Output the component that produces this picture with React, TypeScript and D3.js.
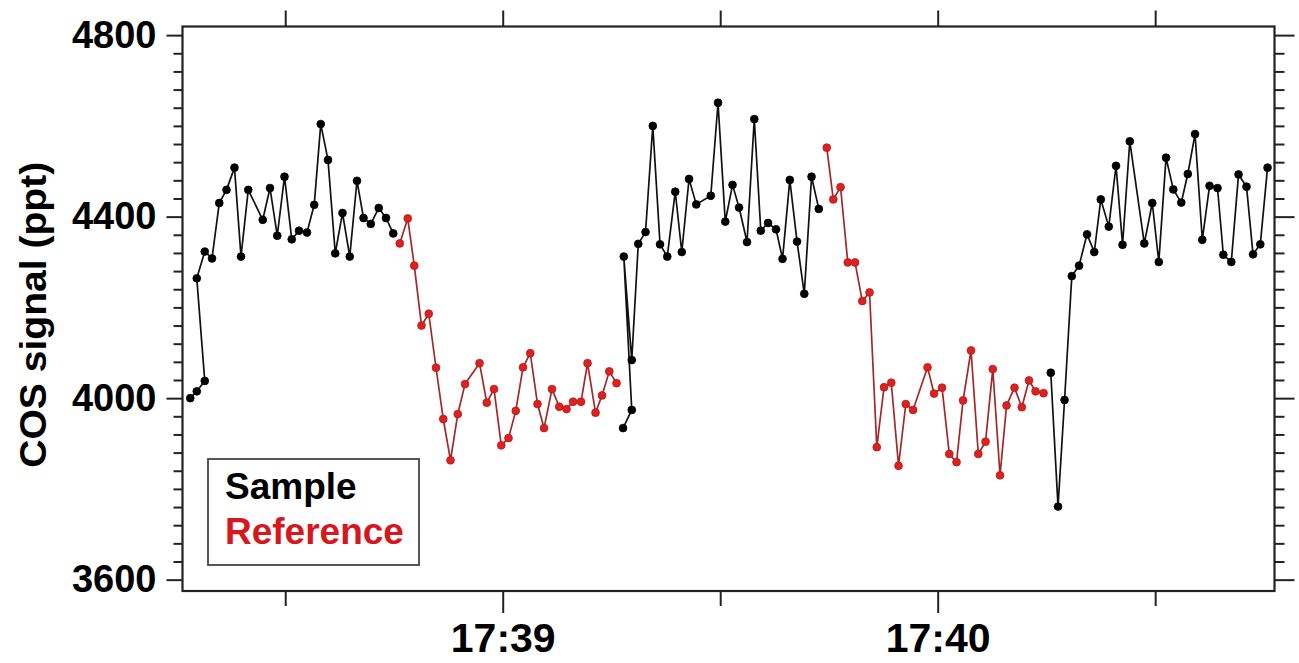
import React, { useEffect, useRef } from 'react';
import * as d3 from 'd3';

// times are seconds after 17:38:00, values in ppt
const sample1Time = [16.9, 17.8, 18.9, 17.8, 18.9, 19.9, 20.9, 21.9, 23.0, 23.9, 24.9, 26.9, 27.9, 28.9, 29.9, 30.9, 31.9, 33.0, 34.0, 34.9, 35.9, 36.9, 37.9, 38.9, 39.9, 40.8, 41.8, 42.9, 43.9, 44.9];
const sample1Value = [4000, 4015, 4038, 4264, 4323, 4308, 4430, 4459, 4508, 4312, 4459, 4393, 4463, 4358, 4488, 4350, 4369, 4365, 4426, 4604, 4525, 4319, 4408, 4312, 4479, 4397, 4384, 4419, 4397, 4363];

const ref1Time = [45.8, 46.9, 47.8, 48.8, 49.8, 50.8, 51.8, 52.8, 53.8, 54.8, 56.8, 57.8, 58.8, 59.8, 60.8, 61.8, 62.8, 63.8, 64.8, 65.7, 66.8, 67.8, 68.8, 69.7, 70.8, 71.7, 72.8, 73.7, 74.7, 75.7];
const ref1Value = [4341, 4396, 4292, 4160, 4186, 4067, 3954, 3863, 3965, 4031, 4077, 3990, 4020, 3896, 3912, 3972, 4068, 4099, 3987, 3934, 4020, 3981, 3976, 3992, 3992, 4077, 3968, 4006, 4059, 4033];

const sample2Time = [76.6, 77.8, 76.7, 77.8, 78.7, 79.7, 80.7, 81.7, 82.7, 83.8, 84.7, 85.7, 86.7, 88.7, 89.7, 90.7, 91.7, 92.6, 93.7, 94.7, 95.6, 96.6, 97.7, 98.6, 99.6, 100.6, 101.6, 102.6, 103.6];
const sample2Value = [3934, 3974, 4312, 4084, 4340, 4366, 4600, 4339, 4312, 4455, 4322, 4483, 4427, 4446, 4651, 4389, 4470, 4420, 4344, 4615, 4369, 4386, 4372, 4307, 4481, 4345, 4230, 4488, 4417];

const ref2Time = [104.7, 105.6, 106.6, 107.6, 108.6, 109.6, 110.6, 111.6, 112.6, 113.6, 114.6, 115.6, 116.6, 118.6, 119.5, 120.6, 121.6, 122.6, 123.5, 124.6, 125.6, 126.6, 127.6, 128.6, 129.5, 130.6, 131.6, 132.6, 133.5, 134.6];
const ref2Value = [4552, 4438, 4465, 4299, 4299, 4214, 4233, 3892, 4024, 4034, 3851, 3987, 3974, 4068, 4010, 4023, 3877, 3859, 3995, 4105, 3877, 3904, 4064, 3830, 3984, 4023, 3980, 4039, 4015, 4011];

const sample3Time = [135.6, 136.6, 137.5, 138.5, 139.5, 140.6, 141.6, 142.5, 143.6, 144.6, 145.5, 146.5, 148.5, 149.6, 150.5, 151.5, 152.5, 153.6, 154.5, 155.5, 156.5, 157.5, 158.6, 159.4, 160.5, 161.5, 162.6, 163.5, 164.5, 165.5];
const sample3Value = [4056, 3761, 3996, 4269, 4292, 4361, 4322, 4438, 4378, 4512, 4338, 4566, 4341, 4430, 4300, 4530, 4460, 4431, 4494, 4582, 4349, 4468, 4463, 4316, 4300, 4493, 4466, 4317, 4339, 4508];

const yMajorTicks = [3600, 4000, 4400, 4800];
const xTickSeconds = [30, 60, 90, 120, 150];
const xLabelSeconds = [60, 120];
const legendLabels = ['Sample', 'Reference'];

const W = 1299;
const H = 663;
const frame = { left: 182.5, right: 1274.5, top: 26.5, bottom: 591 };
const FONT = '"Liberation Sans", Arial, Helvetica, sans-serif';
const BLACK = '#111';
const RED_LINE = '#a3282b';
const RED_FILL = '#e0201f';
const RED_TEXT = '#d8161e';

export default function App() {
  const ref = useRef<SVGSVGElement>(null);

  useEffect(() => {
    const svg = d3.select(ref.current);
    svg.selectAll('*').remove();

    const base = new Date(2020, 0, 1, 17, 38, 0).getTime();
    const toDate = (s: number) => new Date(base + s * 1000);

    const x = d3.scaleTime()
      .domain([toDate(15.83), toDate(166.46)])
      .range([frame.left, frame.right]);
    const y = d3.scaleLinear()
      .domain([3575, 4819])
      .range([frame.bottom, frame.top]);

    svg.append('rect').attr('width', W).attr('height', H).attr('fill', '#fff');

    const styleAxis = (size: number) => (g: any) => {
      g.select('.domain').remove();
      g.selectAll('line').attr('stroke', '#222').attr('stroke-width', 2);
      g.selectAll('text')
        .attr('fill', '#000')
        .style('font-family', FONT)
        .style('font-weight', 'bold')
        .style('font-size', `${size}px`);
    };

    const minorY = d3.range(3600, 4801, 40).filter(v => !yMajorTicks.includes(v));

    // left
    svg.append('g').attr('transform', `translate(${frame.left},0)`)
      .call(d3.axisLeft(y).tickValues(minorY).tickSize(9).tickFormat(() => ''))
      .call(styleAxis(38));
    svg.append('g').attr('transform', `translate(${frame.left},0)`)
      .call(d3.axisLeft(y).tickValues(yMajorTicks).tickSize(16).tickPadding(10).tickFormat(d3.format('d')))
      .call(styleAxis(38));

    // right
    svg.append('g').attr('transform', `translate(${frame.right},0)`)
      .call(d3.axisRight(y).tickValues(minorY).tickSize(10).tickFormat(() => ''))
      .call(styleAxis(38));
    svg.append('g').attr('transform', `translate(${frame.right},0)`)
      .call(d3.axisRight(y).tickValues(yMajorTicks).tickSize(20).tickFormat(() => ''))
      .call(styleAxis(38));

    // top
    svg.append('g').attr('transform', `translate(0,${frame.top})`)
      .call(d3.axisTop(x).tickValues(xTickSeconds.map(toDate)).tickSize(16).tickFormat(() => ''))
      .call(styleAxis(38));

    // bottom
    svg.append('g').attr('transform', `translate(0,${frame.bottom})`)
      .call(d3.axisBottom(x).tickValues(xTickSeconds.filter(s => !xLabelSeconds.includes(s)).map(toDate)).tickSize(15).tickFormat(() => ''))
      .call(styleAxis(38));
    svg.append('g').attr('transform', `translate(0,${frame.bottom})`)
      .call(d3.axisBottom(x).tickValues(xLabelSeconds.map(toDate)).tickSize(22).tickPadding(10).tickFormat(d3.timeFormat('%H:%M') as any))
      .call(styleAxis(41));

    // frame
    svg.append('rect')
      .attr('x', frame.left).attr('y', frame.top)
      .attr('width', frame.right - frame.left).attr('height', frame.bottom - frame.top)
      .attr('fill', 'none').attr('stroke', '#222').attr('stroke-width', 2.2);

    // y title
    svg.append('text')
      .attr('transform', `translate(46,${(frame.top + frame.bottom) / 2 + 6}) rotate(-90)`)
      .attr('text-anchor', 'middle')
      .attr('textLength', 306)
      .attr('lengthAdjust', 'spacingAndGlyphs')
      .style('font-family', FONT).style('font-weight', 'bold').style('font-size', '37px')
      .text('COS signal (ppt)');

    const drawSeries = (t: number[], v: number[], lineColor: string, fill: string, stroke: string) => {
      const idx = d3.range(t.length);
      const ln = d3.line<number>().x(i => x(toDate(t[i]))).y(i => y(v[i]));
      svg.append('path').attr('d', ln(idx))
        .attr('fill', 'none').attr('stroke', lineColor).attr('stroke-width', 1.7)
        .attr('stroke-linejoin', 'round');
      svg.append('g').selectAll('circle').data(idx).join('circle')
        .attr('cx', i => x(toDate(t[i]))).attr('cy', i => y(v[i]))
        .attr('r', 3.9).attr('fill', fill).attr('stroke', stroke).attr('stroke-width', 0.8);
    };

    drawSeries(sample1Time, sample1Value, BLACK, '#000', '#000');
    drawSeries(ref1Time, ref1Value, RED_LINE, RED_FILL, '#b01c1c');
    drawSeries(sample2Time, sample2Value, BLACK, '#000', '#000');
    drawSeries(ref2Time, ref2Value, RED_LINE, RED_FILL, '#b01c1c');
    drawSeries(sample3Time, sample3Value, BLACK, '#000', '#000');

    // legend
    const lg = svg.append('g');
    lg.append('rect').attr('x', 208).attr('y', 459).attr('width', 211).attr('height', 106)
      .attr('fill', '#fff').attr('stroke', '#444').attr('stroke-width', 1.8);
    lg.selectAll('text').data(legendLabels).join('text')
      .attr('x', 225).attr('y', (d, i) => 499 + i * 45)
      .attr('fill', (d, i) => (i === 0 ? '#000' : RED_TEXT))
      .style('font-family', FONT).style('font-weight', 'bold').style('font-size', '37px')
      .text(d => d);
  }, []);

  return (
    <svg ref={ref} width={W} height={H}
      style={{ position: 'absolute', left: 0, top: 0, display: 'block' }} />
  );
}
